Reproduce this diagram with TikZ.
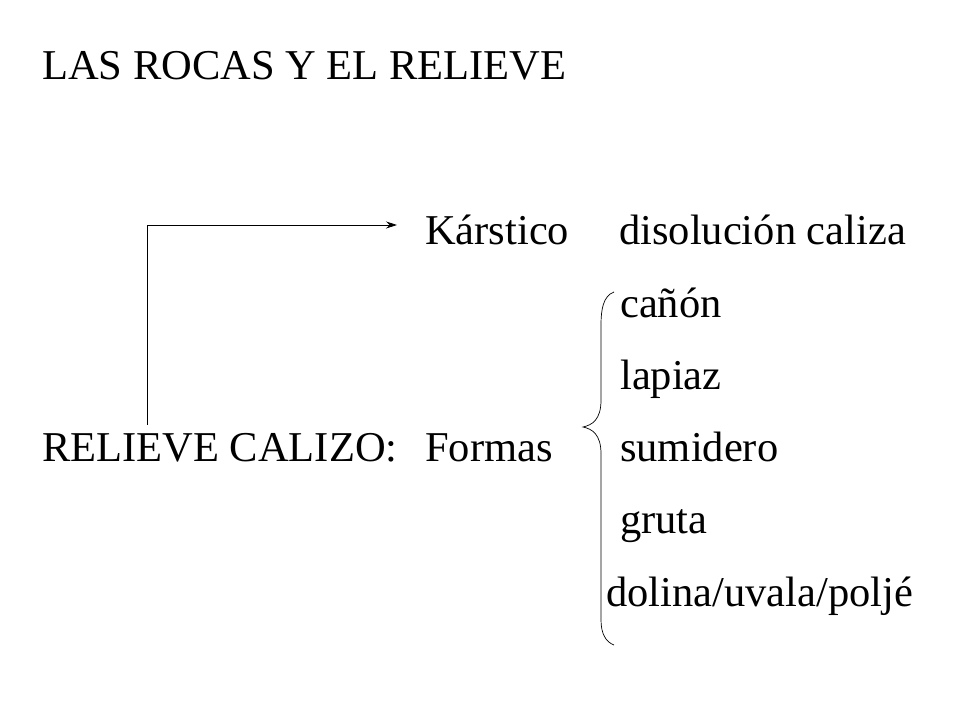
\documentclass[tikz,border=0pt]{standalone}
\usepackage{fontspec}
\setmainfont{Liberation Serif}
\usetikzlibrary{arrows.meta}
\begin{document}
\begin{tikzpicture}[x=1pt,y=1pt,
  t/.style={anchor=base west,inner sep=0pt,font=\fontsize{42.5}{48}\selectfont}]
\useasboundingbox[fill=white] (0,0) rectangle (960,720);
\node[t] (title) at (42,640) {LAS ROCAS Y EL RELIEVE};
\node[t] (kar) at (425,475) {Kárstico};
\node[t] (dis) at (619,475) {disolución caliza};
\node[t] (can) at (620,402) {cañón};
\node[t] (lap) at (620,330) {lapiaz};
\node[t] (rel) at (42,258) {RELIEVE CALIZO:};
\node[t] (for) at (425,258) {Formas};
\node[t] (sum) at (620,258) {sumidero};
\node[t] (gru) at (620,186) {gruta};
\node[t] (dol) at (606,114) {dolina/uvala/poljé};
\coordinate (a0) at (147,295);
\coordinate (a1) at (147,495);
\coordinate (a2) at (397,495);
\draw[line width=0.8pt,-{Stealth[length=11pt,width=7pt]}] (a0) -- (a1) -- (a2);
\draw[line width=0.7pt] (614,428) .. controls (603,424) and (601,410) .. (601,395)
  -- (601,320) .. controls (601,300) and (592,295) .. (583,293)
  .. controls (592,291) and (601,286) .. (601,266)
  -- (601,100) .. controls (601,86) and (606,78) .. (614,75);
\end{tikzpicture}
\end{document}
